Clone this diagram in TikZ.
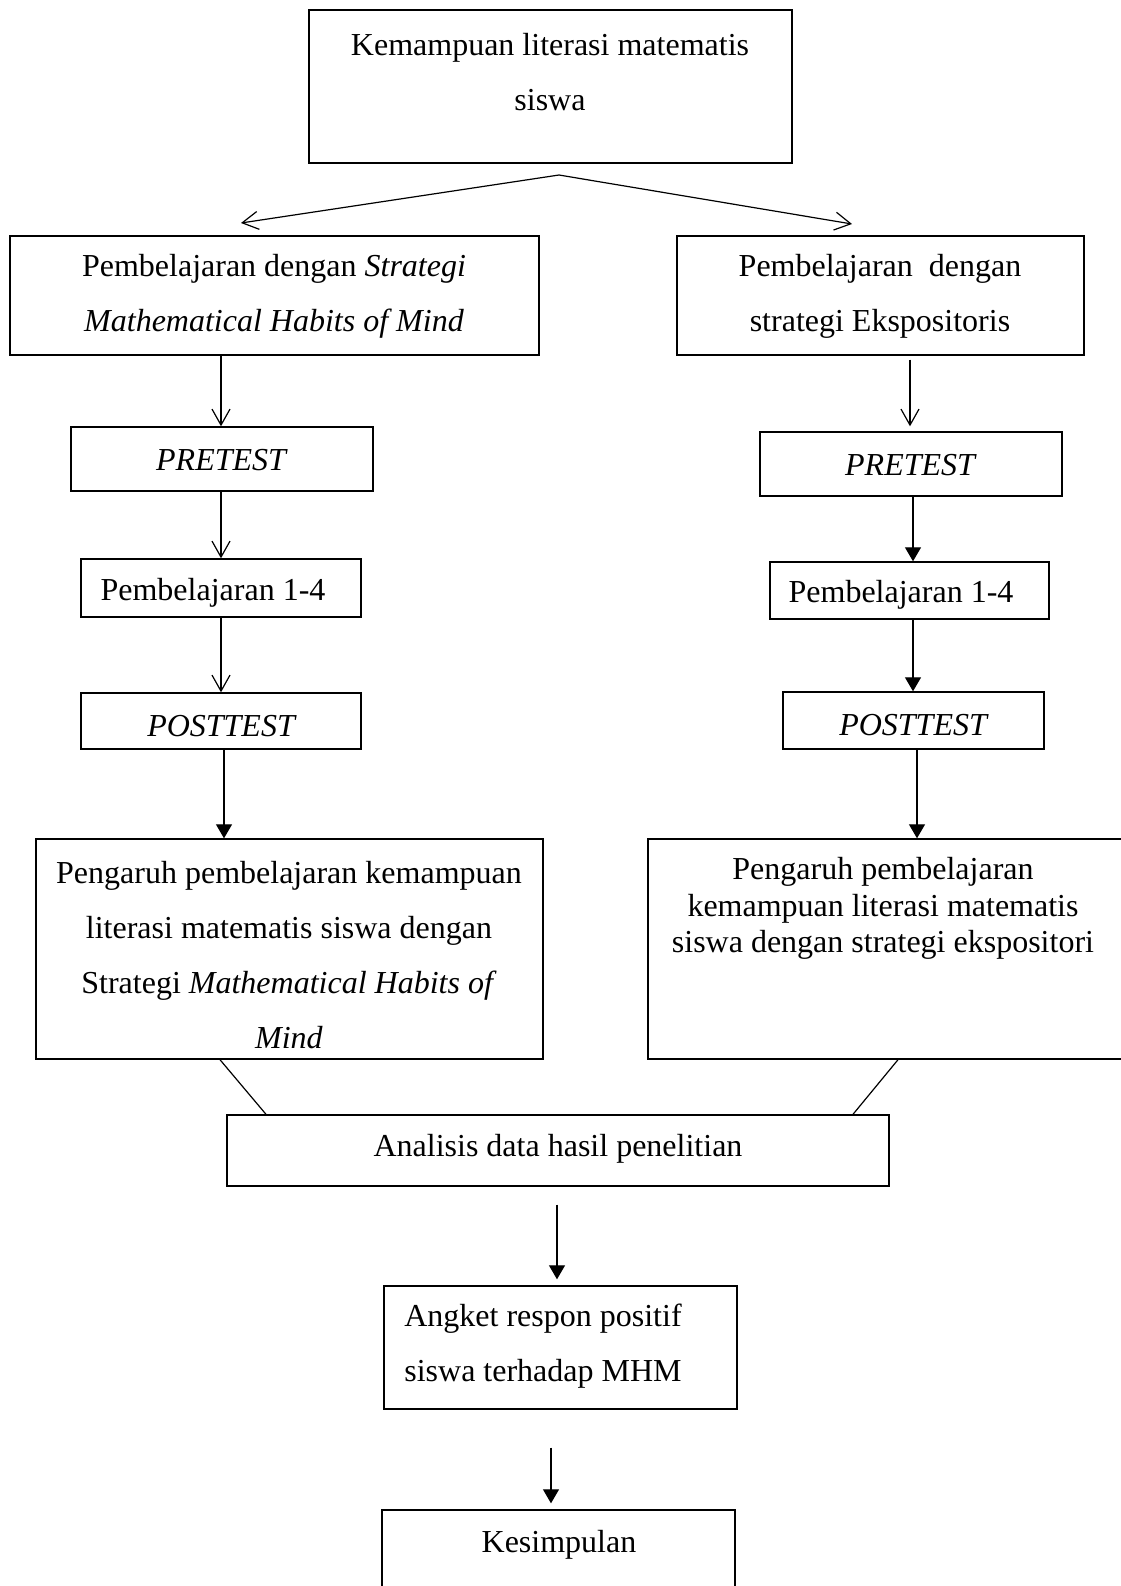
\documentclass[tikz,border=0pt]{standalone}
\usepackage{fontspec}
\setmainfont{Liberation Serif}
\usetikzlibrary{arrows.meta}
\tikzset{
  kotak/.style={draw,line width=0.7pt,inner sep=0pt},
  teks/.style={font=\fontsize{16}{27.5}\selectfont,align=center,inner sep=0pt,yshift=-1.8pt},
  teksrapat/.style={font=\fontsize{16}{18.3}\selectfont,align=center,inner sep=0pt,yshift=-1.8pt},
  panahbuka/.style={-{Straight Barb[length=8pt,width=9pt]},line width=0.6pt},
  panahisi/.style={-{Triangle[length=7pt,width=8pt]},line width=0.6pt},
}
\begin{document}
\begin{tikzpicture}[x=0.5pt,y=-0.5pt]
\useasboundingbox (0,0) rectangle (1120,1586);

%kotak
\node [kotak,minimum width=241.5pt,minimum height=76.5pt] (atas) at (550.5,86.5) {};
\node [kotak,minimum width=264.5pt,minimum height=59.5pt] (mhm) at (274.5,295.5) {};
\node [kotak,minimum width=203.5pt,minimum height=59.5pt] (eks) at (880.5,295.5) {};
\node [kotak,minimum width=151pt,minimum height=32pt] (preA) at (222,459) {};
\node [kotak,minimum width=151pt,minimum height=32pt] (preB) at (911,464) {};
\node [kotak,minimum width=140pt,minimum height=29pt] (pembA) at (221,588) {};
\node [kotak,minimum width=139.5pt,minimum height=28.5pt] (pembB) at (909.5,590.5) {};
\node [kotak,minimum width=140pt,minimum height=28pt] (postA) at (221,721) {};
\node [kotak,minimum width=130.5pt,minimum height=28.5pt] (postB) at (913.5,720.5) {};
\node [kotak,minimum width=253.5pt,minimum height=110pt] (pengA) at (289.5,949) {};
\node [kotak,minimum width=241pt,minimum height=110pt] (pengB) at (889,949) {};
\node [kotak,minimum width=331pt,minimum height=35.5pt] (analisis) at (558,1150.5) {};
\node [kotak,minimum width=176.5pt,minimum height=61.5pt] (angket) at (560.5,1347.5) {};
\node [kotak,minimum width=176.5pt,minimum height=55pt] (simpul) at (558.5,1565) {};

%teks
\node [teks] (tatas) at (550,68) {Kemampuan literasi matematis\\siswa};
\node [teks] (tmhm) at (274,292.5) {Pembelajaran dengan \textit{Strategi}\\\textit{Mathematical Habits of Mind}};
\node [teks] (teks) at (880,292.5) {Pembelajaran~ dengan\\strategi Ekspositoris};
\node [teks] (tpreA) at (222,456) {\textit{PRETEST}};
\node [teks] (tpreB) at (911,461) {\textit{PRETEST}};
\node [teks] (tpembA) at (213,589) {Pembelajaran 1-4};
\node [teks] (tpembB) at (901,591) {Pembelajaran 1-4};
\node [teks] (tpostA) at (222,722) {\textit{POSTTEST}};
\node [teks] (tpostB) at (914,721) {\textit{POSTTEST}};
\node [teks] (tpengA) at (289,951) {Pengaruh pembelajaran kemampuan\\literasi matematis siswa dengan\\Strategi \textit{Mathematical Habits of}\\\textit{Mind}};
\node [teksrapat] (tpengB) at (883,905) {Pengaruh pembelajaran\\kemampuan literasi matematis\\siswa dengan strategi ekspositori};
\node [teks] (tanalisis) at (558,1145) {Analisis data hasil penelitian};
\node [teks,align=left] (tangket) at (543,1342.5) {Angket respon positif\\siswa terhadap MHM};
\node [teks] (tsimpul) at (559,1541) {Kesimpulan};

%garis
\coordinate (puncak) at (559,175);
\coordinate (ujungA) at (241,223);
\coordinate (ujungB) at (852,224);
\coordinate (xa) at (221,0);
\coordinate (xb) at (224,0);
\coordinate (xc) at (910,0);
\coordinate (xd) at (913,0);
\coordinate (xe) at (917,0);
\coordinate (xf) at (557,0);
\coordinate (xg) at (551,0);
\coordinate (xh) at (220,0);
\coordinate (xi) at (266,0);
\coordinate (xj) at (898,0);
\coordinate (xk) at (853,0);

\draw [panahbuka] (puncak) -- (ujungA);
\draw [panahbuka] (puncak) -- (ujungB);
\draw [panahbuka] (mhm.south -| xa) -- (preA.north -| xa);
\draw [panahbuka] (preA.south -| xa) -- (pembA.north -| xa);
\draw [panahbuka] (pembA.south -| xa) -- (postA.north -| xa);
\draw [panahisi] (postA.south -| xb) -- (pengA.north -| xb);
\draw [panahbuka,shorten <=2pt,shorten >=2.5pt] (eks.south -| xc) -- (preB.north -| xc);
\draw [panahisi] (preB.south -| xd) -- (pembB.north -| xd);
\draw [panahisi] (pembB.south -| xd) -- (postB.north -| xd);
\draw [panahisi] (postB.south -| xe) -- (pengB.north -| xe);
\draw [line width=0.6pt] (pengA.south -| xh) -- (analisis.north -| xi);
\draw [line width=0.6pt] (pengB.south -| xj) -- (analisis.north -| xk);
\draw [panahisi,shorten <=9pt,shorten >=3pt] (analisis.south -| xf) -- (angket.north -| xf);
\draw [panahisi,shorten <=19pt,shorten >=3pt] (angket.south -| xg) -- (simpul.north -| xg);

\end{tikzpicture}
\end{document}
